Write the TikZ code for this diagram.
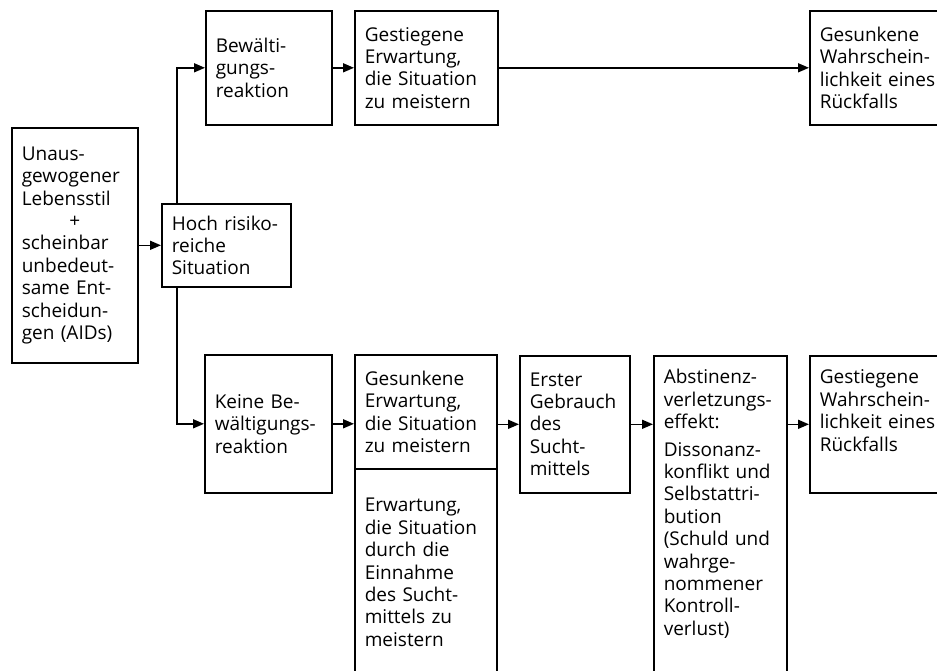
\documentclass[tikz,border=0pt]{standalone}
\usepackage{fontspec}
\setmainfont{Open Sans}
\usetikzlibrary{arrows.meta}
\tikzset{
  box/.style={draw,line width=1.6pt,anchor=north west,inner xsep=10pt,inner ysep=0pt,align=left,font=\fontsize{19}{22.4}\selectfont},
  arr/.style={line width=1.6pt,-{Triangle[length=11pt,width=9pt]}}
}
\begin{document}
\begin{tikzpicture}[x=1pt,y=-1pt]
\path[use as bounding box] (0,0) rectangle (937,670);
\clip (0,0) rectangle (937,670);
% start
\node[box,text width=106pt,minimum height=235pt] (unaus) at (11,127) {Unaus-\\gewogener\\Lebensstil\\\makebox[106pt]{+}\\scheinbar\\unbedeut-\\same Ent-\\scheidun-\\gen (AIDs)};
\node[box,text width=109pt,minimum height=83pt] (hoch) at (161,203) {Hoch risiko-\\reiche\\Situation};
% upper path
\node[box,text width=106pt,minimum height=114pt] (bew) at (205,10) {Bewälti-\\gungs-\\reaktion};
\node[box,text width=123pt,minimum height=114pt] (gest) at (354,10) {Gestiegene\\Erwartung,\\die Situation\\zu meistern};
\node[box,text width=125pt,minimum height=114pt] (gesunk) at (809,10) {Gesunkene\\Wahrschein-\\lichkeit eines\\Rückfalls};
% lower path
\node[box,text width=107pt,minimum height=138pt] (keine) at (204,354) {Keine Be-\\wältigungs-\\reaktion};
\node[box,text width=122pt,minimum height=114pt] (gesE) at (354,354) {Gesunkene\\Erwartung,\\die Situation\\zu meistern};
\node[box,text width=122pt,text height=43pt,text depth=220pt] (erw) at (354,468) {Erwartung,\\die Situation\\durch die\\Einnahme\\des Sucht-\\mittels zu\\meistern};
\node[box,text width=90pt,minimum height=137pt] (erster) at (519,355) {Erster\\Gebrauch\\des\\Sucht-\\mittels};
\node[box,text width=113pt,text height=28pt,text depth=330pt] (abst) at (653,355) {Abstinenz-\\verletzungs-\\effekt:\\[5pt]Dissonanz-\\konflikt und\\Selbstattri-\\bution\\(Schuld und\\wahrge-\\nommener\\Kontroll-\\verlust)};
\node[box,text width=125pt,text height=28pt,text depth=109pt] (gestW) at (809,355) {Gestiegene\\Wahrschein-\\lichkeit eines\\Rückfalls};
% arrows
\draw[arr] (unaus.east) -- (hoch.west);
\draw[arr] ([xshift=16pt]hoch.north west) |- (bew.west);
\draw[arr] ([xshift=16pt]hoch.south west) |- (keine.west);
\draw[arr] (bew.east) -- (gest.west);
\draw[arr] (gest.east) -- (gesunk.west);
\draw[arr] (keine.east) -- (keine.east -| gesE.west);
\draw[arr] (erster.west -| gesE.east) -- (erster.west);
\draw[arr] (erster.east) -- (erster.east -| abst.west);
\draw[arr] (gestW.west -| abst.east) -- (gestW.west);
\end{tikzpicture}
\end{document}
